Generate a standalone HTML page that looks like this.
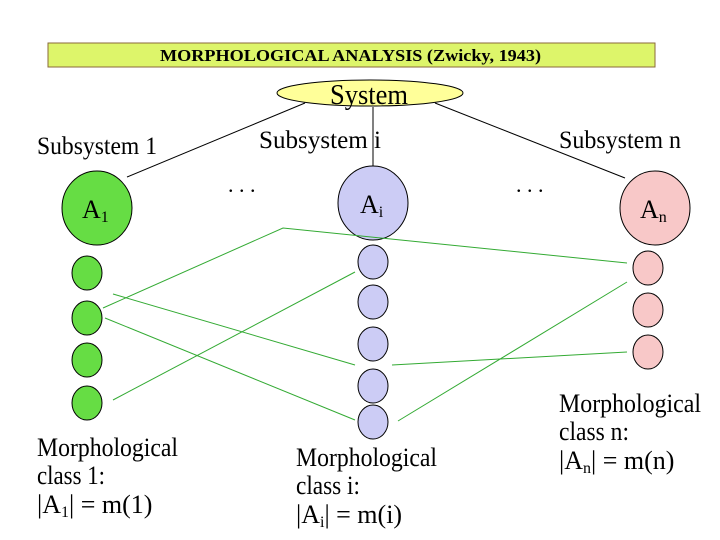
<!DOCTYPE html>
<html><head><meta charset="utf-8"><style>body{margin:0;background:#fff}svg{display:block}</style></head><body>
<svg width="720" height="540" viewBox="0 0 720 540" xmlns="http://www.w3.org/2000/svg" font-family="Liberation Serif, serif">
<rect x="48" y="43" width="607" height="24" fill="#ddf56a" stroke="#8a6a3a" stroke-width="1"/>
<text x="160" y="61" font-size="17" font-weight="bold" textLength="381" lengthAdjust="spacingAndGlyphs">MORPHOLOGICAL ANALYSIS (Zwicky, 1943)</text>
<g stroke="#000" stroke-width="1">
<line x1="305" y1="103" x2="127" y2="177"/>
<line x1="373" y1="107" x2="373" y2="170"/>
<line x1="435" y1="103" x2="625" y2="178"/>
</g>
<ellipse cx="370" cy="93" rx="93" ry="13" fill="#ffff99" stroke="#000"/>
<text x="330" y="104" font-size="28" textLength="78" lengthAdjust="spacingAndGlyphs">System</text>
<text x="37" y="154" font-size="25" textLength="120" lengthAdjust="spacingAndGlyphs">Subsystem 1</text>
<text x="259" y="148" font-size="25" textLength="122" lengthAdjust="spacingAndGlyphs">Subsystem  i</text>
<text x="559" y="148" font-size="25" textLength="122" lengthAdjust="spacingAndGlyphs">Subsystem n</text>
<text x="228" y="192" font-size="22">. . .</text>
<text x="516" y="192" font-size="22">. . .</text>
<ellipse cx="97" cy="208" rx="35" ry="37" fill="#66dd44" stroke="#000"/>
<ellipse cx="373" cy="203" rx="35" ry="37" fill="#ccccf5" stroke="#000"/>
<ellipse cx="655" cy="208" rx="35" ry="37" fill="#f8c8c8" stroke="#000"/>
<text x="82" y="218" font-size="26">A<tspan font-size="16" dy="4">1</tspan></text>
<text x="360" y="213" font-size="26">A<tspan font-size="16" dy="4">i</tspan></text>
<text x="640" y="218" font-size="26">A<tspan font-size="16" dy="4">n</tspan></text>
<g fill="#66dd44" stroke="#000">
<ellipse cx="87" cy="273" rx="15" ry="17"/><ellipse cx="87" cy="318" rx="15" ry="17"/>
<ellipse cx="87" cy="360" rx="15" ry="17"/><ellipse cx="87" cy="403" rx="15" ry="17"/>
</g>
<g fill="#ccccf5" stroke="#000">
<ellipse cx="373" cy="262" rx="15" ry="17"/><ellipse cx="373" cy="302" rx="15" ry="17"/>
<ellipse cx="373" cy="344" rx="15" ry="17"/><ellipse cx="373" cy="386" rx="15" ry="17"/>
<ellipse cx="373" cy="422" rx="15" ry="17"/>
</g>
<g fill="#f8c8c8" stroke="#000">
<ellipse cx="648" cy="268" rx="15" ry="17"/><ellipse cx="648" cy="310" rx="15" ry="17"/>
<ellipse cx="648" cy="352" rx="15" ry="17"/>
</g>
<g stroke="#33aa33" stroke-width="1" fill="none">
<polyline points="103,308 283,228 627,263"/>
<line x1="113" y1="294" x2="355" y2="365"/>
<line x1="105" y1="318" x2="355" y2="420"/>
<line x1="113" y1="400" x2="355" y2="272"/>
<line x1="392" y1="365" x2="627" y2="352"/>
<line x1="398" y1="421" x2="627" y2="282"/>
</g>
<g font-size="26">
<text x="37" y="456" textLength="141" lengthAdjust="spacingAndGlyphs">Morphological</text>
<text x="37" y="484" textLength="68" lengthAdjust="spacingAndGlyphs">class 1:</text>
<text x="37" y="513">|A<tspan font-size="16" dy="4">1</tspan><tspan dy="-4">| = m(1)</tspan></text>
<text x="296" y="466" textLength="141" lengthAdjust="spacingAndGlyphs">Morphological</text>
<text x="296" y="494" textLength="64" lengthAdjust="spacingAndGlyphs">class i:</text>
<text x="296" y="523">|A<tspan font-size="16" dy="4">i</tspan><tspan dy="-4">| = m(i)</tspan></text>
<text x="559" y="412" textLength="142" lengthAdjust="spacingAndGlyphs">Morphological</text>
<text x="559" y="440" textLength="70" lengthAdjust="spacingAndGlyphs">class n:</text>
<text x="559" y="469">|A<tspan font-size="16" dy="4">n</tspan><tspan dy="-4">| = m(n)</tspan></text>
</g>
</svg>
</body></html>
